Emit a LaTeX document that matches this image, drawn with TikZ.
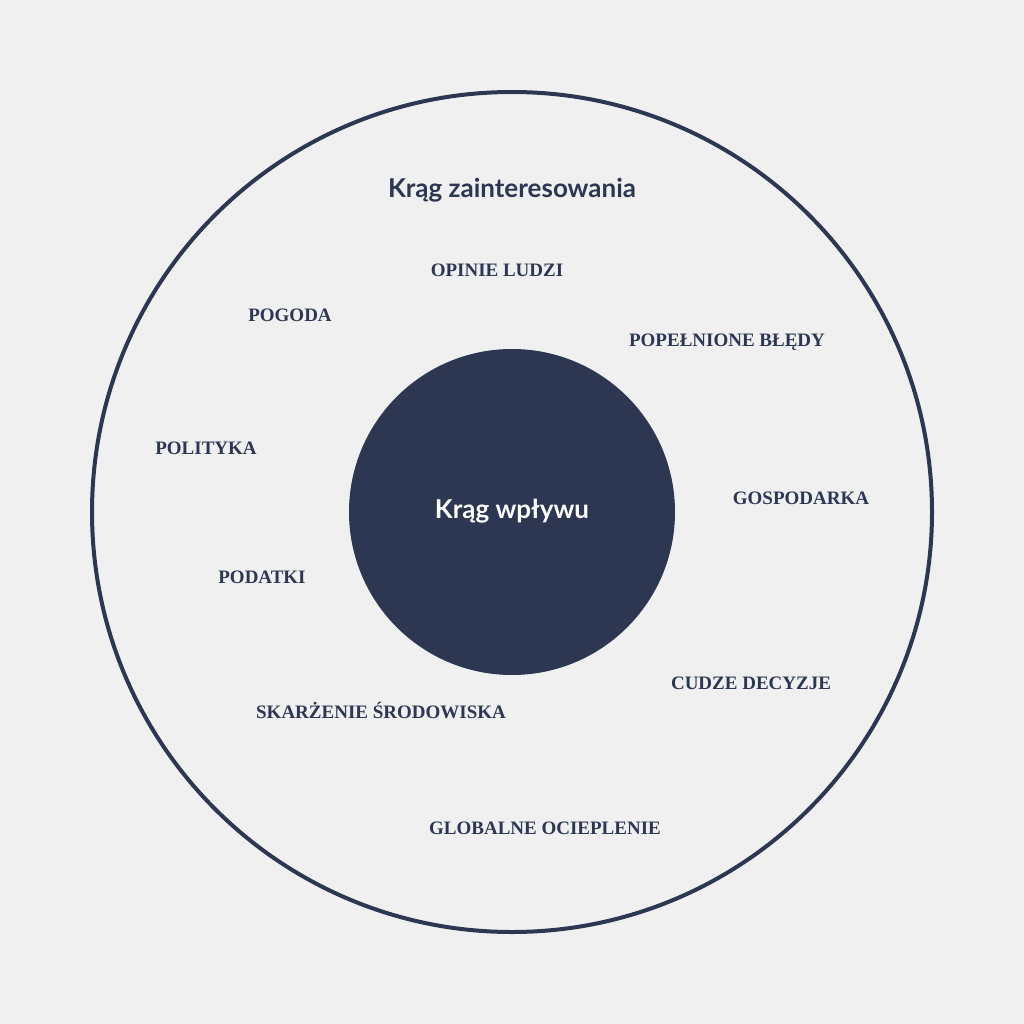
\documentclass[tikz,border=0pt]{standalone}
\usepackage{fontspec}
\setmainfont{Liberation Serif}
\newfontfamily\latofont{Lato}
\definecolor{navy}{HTML}{2E3752}
\definecolor{bg}{HTML}{F0F0F0}
\begin{document}
\begin{tikzpicture}[x=1pt,y=-1pt,
  lbl/.style={text=navy,font=\fontsize{19}{22}\selectfont\bfseries},
  ttl/.style={font=\latofont\fontsize{26}{30}\selectfont\bfseries}]
\fill[bg] (0,0) rectangle (1024,1024);
\useasboundingbox (0,0) rectangle (1024,1024);
\draw[navy,line width=4] (512,512) circle (420);
\fill[navy] (512,512) circle (163);
\node[ttl,text=navy] (t1) at (512,190) {Krąg zainteresowania};
\node[ttl,text=white] (t2) at (512,511) {Krąg wpływu};
\node[lbl] (a) at (497,270) {OPINIE LUDZI};
\node[lbl] (b) at (290,315) {POGODA};
\node[lbl] (c) at (727,342) {POPEŁNIONE BŁĘDY};
\node[lbl] (d) at (206,448) {POLITYKA};
\node[lbl] (e) at (801,498) {GOSPODARKA};
\node[lbl] (f) at (262,577) {PODATKI};
\node[lbl] (g) at (751,683) {CUDZE DECYZJE};
\node[lbl] (h) at (381,710) {SKARŻENIE ŚRODOWISKA};
\node[lbl] (i) at (545,828) {GLOBALNE OCIEPLENIE};
\end{tikzpicture}
\end{document}
